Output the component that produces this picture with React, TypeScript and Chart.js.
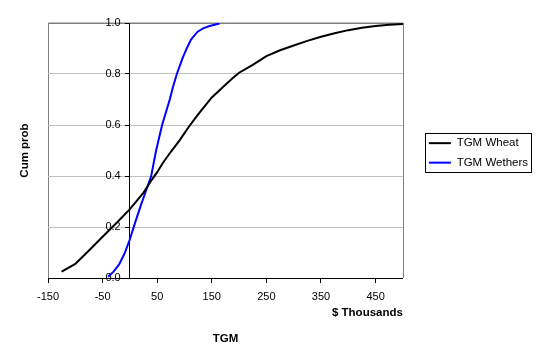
import { useEffect, useRef } from 'react';
import { Chart, registerables } from 'chart.js';

Chart.register(...registerables);

const seriesNames = ['TGM Wheat', 'TGM Wethers'];
const seriesColors = ['#000000', '#0000ff'];

const wheatX = [-125, -100, -75, -50, -25, 0, 25, 40, 50, 60, 75, 91, 100, 109, 125, 150, 175, 188, 200, 225, 250, 275, 300, 325, 350, 375, 400, 425, 450, 475, 500];
const wheatY = [0.025, 0.055, 0.108, 0.162, 0.215, 0.27, 0.335, 0.385, 0.415, 0.45, 0.495, 0.54, 0.568, 0.596, 0.642, 0.708, 0.758, 0.783, 0.805, 0.836, 0.87, 0.893, 0.912, 0.93, 0.946, 0.96, 0.972, 0.981, 0.988, 0.993, 0.996];

const wethersX = [-40, -30, -20, -10, 0, 10, 20, 30, 39, 48, 59, 66, 73, 79, 86, 97, 104, 112, 124, 135, 146, 155, 164];
const wethersY = [0.005, 0.025, 0.052, 0.095, 0.152, 0.22, 0.285, 0.345, 0.4, 0.5, 0.6, 0.65, 0.7, 0.75, 0.8, 0.865, 0.9, 0.935, 0.966, 0.98, 0.988, 0.993, 0.998];

const xTicks = [-150, -50, 50, 150, 250, 350, 450];
const yTicks = [0, 0.2, 0.4, 0.6, 0.8, 1.0];

const xMin = -150;
const xMax = 500;
const yMin = 0;
const yMax = 1;

const FONT = "'Liberation Sans', Arial, sans-serif";

const framePlugin = {
  id: 'frame',
  beforeDraw(chart: any) {
    const { ctx, chartArea } = chart;
    ctx.save();
    ctx.strokeStyle = '#808080';
    ctx.lineWidth = 1;
    ctx.beginPath();
    ctx.moveTo(Math.round(chartArea.left) + 0.5, chartArea.bottom);
    ctx.lineTo(Math.round(chartArea.left) + 0.5, chartArea.top);
    ctx.lineTo(Math.round(chartArea.right) + 0.5, chartArea.top);
    ctx.lineTo(Math.round(chartArea.right) + 0.5, chartArea.bottom);
    ctx.stroke();
    ctx.restore();
  },
  afterDraw(chart: any) {
    const legend = chart.legend;
    if (!legend || !legend.legendHitBoxes || !legend.legendHitBoxes.length) return;
    const hb = legend.legendHitBoxes;
    let l = Infinity, r = -Infinity;
    hb.forEach((h: any) => {
      l = Math.min(l, h.left);
      r = Math.max(r, h.left + h.width);
    });
    const first = hb[0];
    const last = hb[hb.length - 1];
    const top = first.top + first.height / 2 - 10.5;
    const bottom = last.top + last.height / 2 + 8.5;
    const { ctx } = chart;
    ctx.save();
    ctx.strokeStyle = '#000';
    ctx.lineWidth = 1;
    ctx.strokeRect(Math.round(l - 4) + 0.5, Math.round(top) + 0.5, Math.round(r - l + 7), Math.round(bottom - top));
    ctx.restore();
  },
};

export default function App() {
  const ref = useRef<HTMLCanvasElement>(null);

  useEffect(() => {
    if (!ref.current) return;
    const toPts = (xs: number[], ys: number[]) => xs.map((x, i) => ({ x, y: ys[i] }));
    const chart = new Chart(ref.current, {
      type: 'scatter',
      data: {
        datasets: [
          {
            label: seriesNames[0],
            data: toPts(wheatX, wheatY),
            showLine: true,
            borderColor: seriesColors[0],
            backgroundColor: seriesColors[0],
            borderWidth: 2,
            pointRadius: 0,
            tension: 0,
          },
          {
            label: seriesNames[1],
            data: toPts(wethersX, wethersY),
            showLine: true,
            borderColor: seriesColors[1],
            backgroundColor: seriesColors[1],
            borderWidth: 2,
            pointRadius: 0,
            tension: 0,
          },
        ],
      },
      options: {
        animation: false,
        responsive: true,
        maintainAspectRatio: false,
        layout: { padding: { left: 0, top: 23, right: 2, bottom: 0 } },
        plugins: {
          tooltip: { enabled: false },
          legend: {
            position: 'right',
            fullSize: false,
            maxWidth: 200,
            title: {
              display: true,
              text: ' ',
              font: { family: FONT, size: 4 },
              padding: 0,
            },
            labels: {
              usePointStyle: true,
              pointStyle: 'line',
              pointStyleWidth: 22,
              color: '#000',
              font: { family: FONT, size: 11.5 },
              padding: 8,
            },
          },
        },
        scales: {
          x: {
            type: 'linear',
            position: 'bottom',
            min: xMin,
            max: xMax,
            afterBuildTicks: (s: any) => {
              s.ticks = xTicks.map((v) => ({ value: v }));
            },
            afterFit: (s: any) => {
              s.height = 42;
            },
            ticks: {
              color: '#000',
              font: { family: FONT, size: 11 },
              padding: 7,
              maxRotation: 0,
              autoSkip: false,
              callback: (v: any) => String(v),
            },
            grid: { drawOnChartArea: false, drawTicks: true, tickLength: 5, tickColor: '#000' },
            border: { color: '#000', width: 1 },
            title: {
              display: true,
              text: '$ Thousands',
              align: 'end',
              color: '#000',
              font: { family: FONT, size: 11.5, weight: 'bold' },
              padding: { top: 0, bottom: 0 },
            },
          },
          x2: {
            type: 'linear',
            axis: 'x',
            position: 'bottom',
            min: xMin,
            max: xMax,
            afterFit: (s: any) => {
              s.height = 43;
            },
            ticks: { display: false },
            grid: { display: false },
            border: { display: false },
            title: {
              display: true,
              text: 'TGM',
              color: '#000',
              font: { family: FONT, size: 11.5, weight: 'bold' },
              padding: { top: 0, bottom: 17 },
            },
          },
          y: {
            type: 'linear',
            position: { x: 0 },
            min: yMin,
            max: yMax,
            afterBuildTicks: (s: any) => {
              s.ticks = yTicks.map((v) => ({ value: v }));
            },
            ticks: {
              color: '#000',
              font: { family: FONT, size: 11 },
              callback: (v: any) => Number(v).toFixed(1) + '   ',
            },
            grid: {
              color: (c: any) => (c.tick && c.tick.value === 1 ? '#808080' : '#c0c0c0'),
              tickColor: '#000',
              tickLength: 4,
            },
            border: { color: '#000', width: 1 },
          },
          y2: {
            type: 'linear',
            axis: 'y',
            position: 'left',
            min: yMin,
            max: yMax,
            afterFit: (s: any) => {
              s.width = 48;
            },
            ticks: { display: false },
            grid: { display: false },
            border: { display: false },
            title: {
              display: true,
              text: 'Cum prob',
              color: '#000',
              font: { family: FONT, size: 11.5, weight: 'bold' },
              padding: { top: 18, bottom: 0 },
            },
          },
          y3: {
            type: 'linear',
            axis: 'y',
            position: 'right',
            min: yMin,
            max: yMax,
            afterFit: (s: any) => {
              s.width = 18;
            },
            ticks: { display: false },
            grid: { display: false },
            border: { display: false },
          },
        },
      } as any,
      plugins: [framePlugin],
    });
    return () => chart.destroy();
  }, []);

  return (
    <div style={{ position: 'absolute', left: 0, top: 0, width: 540, height: 363, background: '#fff' }}>
      <canvas ref={ref} />
    </div>
  );
}
